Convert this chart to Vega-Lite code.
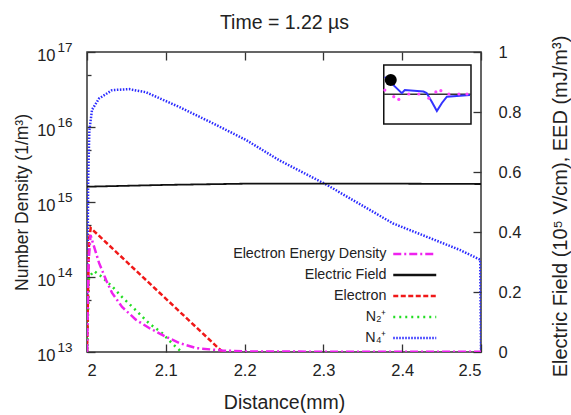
{
  "$schema": "https://vega.github.io/schema/vega-lite/v6.json",
  "width": 394,
  "height": 300,
  "autosize": {"type": "none"},
  "padding": {"left": 87, "top": 52, "right": 90, "bottom": 63},
  "background": "white",
  "config": {
    "view": {"stroke": "#333", "strokeWidth": 1.5},
    "axis": {"labelFont": "Liberation Sans", "labelFontSize": 16.5, "labelColor": "#222", "titleFont": "Liberation Sans", "titleFontSize": 17.5, "titleFontWeight": "normal", "titleColor": "#222", "tickColor": "#333", "tickWidth": 1.3, "domain": false, "grid": false}
  },
  "datasets": {
    "density": [
      {"s": "N₄⁺", "x": 2.0, "v": 1e13},
      {"s": "N₄⁺", "x": 2.0015, "v": 2e15},
      {"s": "N₄⁺", "x": 2.003, "v": 9e15},
      {"s": "N₄⁺", "x": 2.0064, "v": 1.7e16},
      {"s": "N₄⁺", "x": 2.0153, "v": 2.4e16},
      {"s": "N₄⁺", "x": 2.0318, "v": 3.1e16},
      {"s": "N₄⁺", "x": 2.0534, "v": 3.2e16},
      {"s": "N₄⁺", "x": 2.075, "v": 2.9e16},
      {"s": "N₄⁺", "x": 2.117, "v": 1.85e16},
      {"s": "N₄⁺", "x": 2.159, "v": 1.13e16},
      {"s": "N₄⁺", "x": 2.202, "v": 6.7e15},
      {"s": "N₄⁺", "x": 2.244, "v": 3.6e15},
      {"s": "N₄⁺", "x": 2.304, "v": 1.7e15},
      {"s": "N₄⁺", "x": 2.388, "v": 5.2e14},
      {"s": "N₄⁺", "x": 2.473, "v": 2.3e14},
      {"s": "N₄⁺", "x": 2.499, "v": 1.7e14},
      {"s": "N₄⁺", "x": 2.5, "v": 1e13},
      {"s": "N₂⁺", "x": 2.0, "v": 1e13},
      {"s": "N₂⁺", "x": 2.0025, "v": 1.0e14},
      {"s": "N₂⁺", "x": 2.009, "v": 1.2e14},
      {"s": "N₂⁺", "x": 2.019, "v": 1.0e14},
      {"s": "N₂⁺", "x": 2.0318, "v": 7.5e13},
      {"s": "N₂⁺", "x": 2.0445, "v": 5.4e13},
      {"s": "N₂⁺", "x": 2.062, "v": 3.6e13},
      {"s": "N₂⁺", "x": 2.079, "v": 2.4e13},
      {"s": "N₂⁺", "x": 2.095, "v": 1.8e13},
      {"s": "N₂⁺", "x": 2.108, "v": 1.3e13},
      {"s": "N₂⁺", "x": 2.117, "v": 1.07e13},
      {"s": "N₂⁺", "x": 2.12, "v": 1e13},
      {"s": "Electron", "x": 2.0, "v": 1e13},
      {"s": "Electron", "x": 2.0025, "v": 3e14},
      {"s": "Electron", "x": 2.0047, "v": 4.5e14},
      {"s": "Electron", "x": 2.172, "v": 1e13}
    ],
    "field": [
      {"s": "Electric Field", "x": 2.0, "v": 0.551},
      {"s": "Electric Field", "x": 2.05, "v": 0.554},
      {"s": "Electric Field", "x": 2.1, "v": 0.557},
      {"s": "Electric Field", "x": 2.15, "v": 0.559},
      {"s": "Electric Field", "x": 2.2, "v": 0.561},
      {"s": "Electric Field", "x": 2.3, "v": 0.561},
      {"s": "Electric Field", "x": 2.4, "v": 0.561},
      {"s": "Electric Field", "x": 2.5, "v": 0.56},
      {"s": "Electron Energy Density", "x": 2.0, "v": 0.0},
      {"s": "Electron Energy Density", "x": 2.002, "v": 0.3},
      {"s": "Electron Energy Density", "x": 2.0045, "v": 0.39},
      {"s": "Electron Energy Density", "x": 2.0064, "v": 0.373},
      {"s": "Electron Energy Density", "x": 2.0153, "v": 0.297},
      {"s": "Electron Energy Density", "x": 2.0242, "v": 0.24},
      {"s": "Electron Energy Density", "x": 2.0318, "v": 0.197},
      {"s": "Electron Energy Density", "x": 2.0445, "v": 0.15},
      {"s": "Electron Energy Density", "x": 2.0623, "v": 0.107},
      {"s": "Electron Energy Density", "x": 2.0789, "v": 0.08},
      {"s": "Electron Energy Density", "x": 2.0954, "v": 0.057},
      {"s": "Electron Energy Density", "x": 2.117, "v": 0.03},
      {"s": "Electron Energy Density", "x": 2.1387, "v": 0.013},
      {"s": "Electron Energy Density", "x": 2.1718, "v": 0.005},
      {"s": "Electron Energy Density", "x": 2.2, "v": 0.002},
      {"s": "Electron Energy Density", "x": 2.3, "v": 0.001},
      {"s": "Electron Energy Density", "x": 2.4, "v": 0.001},
      {"s": "Electron Energy Density", "x": 2.5, "v": 0.001}
    ],
    "decades": [{"v": 1e13}, {"v": 1e14}, {"v": 1e15}, {"v": 1e16}, {"v": 1e17}],
    "insetBox": [{"x": 2.3766, "x2": 2.4873, "v": 0.957, "v2": 0.76}],
    "insetAxis": [{"x": 2.3766, "v": 0.859}, {"x": 2.4873, "v": 0.859}],
    "insetBlue": [
      {"x": 2.378, "v": 0.917},
      {"x": 2.3995, "v": 0.863},
      {"x": 2.4033, "v": 0.873},
      {"x": 2.427, "v": 0.868},
      {"x": 2.431, "v": 0.863},
      {"x": 2.4377, "v": 0.833},
      {"x": 2.444, "v": 0.803},
      {"x": 2.4504, "v": 0.83},
      {"x": 2.4567, "v": 0.851},
      {"x": 2.486, "v": 0.857}
    ],
    "insetDots": [
      {"x": 2.378, "v": 0.873},
      {"x": 2.3893, "v": 0.851},
      {"x": 2.3957, "v": 0.842},
      {"x": 2.4084, "v": 0.86},
      {"x": 2.4211, "v": 0.86},
      {"x": 2.4338, "v": 0.846},
      {"x": 2.4427, "v": 0.867},
      {"x": 2.4491, "v": 0.871},
      {"x": 2.4593, "v": 0.86},
      {"x": 2.472, "v": 0.86},
      {"x": 2.4822, "v": 0.86}
    ],
    "insetBall": [{"x": 2.3855, "v": 0.907}]
  },
  "layer": [
    {
      "layer": [
        {
          "data": {"name": "density"},
          "mark": {"type": "line", "clip": true, "strokeWidth": 2.5},
          "encoding": {
            "x": {"field": "x", "type": "quantitative", "scale": {"domain": [2, 2.5], "nice": false, "zero": false},
              "axis": {"orient": "bottom", "values": [2, 2.1, 2.2, 2.3, 2.4, 2.5], "format": "~g", "tickSize": -8, "labelPadding": 18, "labelBaseline": "top", "title": "Distance(mm)", "titleFontSize": 19.5, "titleX": 197, "titleY": 56, "titleBaseline": "alphabetic", "titleAlign": "center"}},
            "y": {"field": "v", "type": "quantitative", "scale": {"type": "log", "domain": [1e13, 1e17], "nice": false},
              "axis": {"orient": "left", "values": [1e13, 1e14, 1e15, 1e16, 1e17], "labelExpr": "'10'", "tickSize": -8, "labelPadding": 40, "labelOffset": 3,
                "title": "Number Density (1/m³)", "titleX": -65, "titleY": 150, "titleAngle": 270, "titleAlign": "center", "titleBaseline": "middle"}},
            "color": {"field": "s", "type": "nominal",
              "scale": {"domain": ["Electron Energy Density", "Electric Field", "Electron", "N₂⁺", "N₄⁺"], "range": ["#ee22ee", "#111111", "#f01818", "#22dd22", "#2a2aff"]},
              "legend": {"orient": "none", "legendX": 315.75, "legendY": 190, "title": null, "labelAlign": "right", "labelOffset": -40.25, "symbolType": "M-2,0H2", "symbolSize": 462, "symbolStrokeWidth": 2.5, "rowPadding": 1, "labelFont": "Liberation Sans", "labelFontSize": 14.3, "labelColor": "#222", "labelLimit": 0}},
            "strokeDash": {"field": "s", "type": "nominal",
              "scale": {"domain": ["Electron Energy Density", "Electric Field", "Electron", "N₂⁺", "N₄⁺"], "range": [[8, 3, 2, 3], [1, 0], [5, 2.5], [2, 4], [1.5, 1.5]]},
              "legend": {"orient": "none", "legendX": 315.75, "legendY": 190, "title": null, "labelAlign": "right", "labelOffset": -40.25, "symbolType": "M-2,0H2", "symbolSize": 462, "symbolStrokeWidth": 2.5, "rowPadding": 1, "labelFont": "Liberation Sans", "labelFontSize": 14.3, "labelColor": "#222", "labelLimit": 0}}
          }
        },
        {
          "data": {"name": "decades"},
          "mark": {"type": "point", "opacity": 0},
          "encoding": {
            "y": {"field": "v", "type": "quantitative", "scale": {"type": "log", "domain": [1e13, 1e17], "nice": false},
              "axis": {"orient": "left", "values": [1e13, 1e14, 1e15, 1e16, 1e17], "labelExpr": "'' + round(log(datum.value) / LN10)", "ticks": false, "labelAlign": "left", "labelPadding": 30, "labelOffset": -5, "labelFontSize": 13.5, "title": null}}
          }
        },
        {
          "data": {"name": "decades"},
          "mark": {"type": "point", "opacity": 0},
          "encoding": {
            "y": {"field": "v", "type": "quantitative", "scale": {"type": "log", "domain": [1e13, 1e17], "nice": false},
              "axis": {"orient": "left", "values": [5e13, 5e14, 5e15, 5e16], "labels": false, "tickSize": -4, "title": null}}
          }
        }
      ],
      "resolve": {"axis": {"y": "independent"}}
    },
    {
      "encoding": {
        "x": {"field": "x", "type": "quantitative", "scale": {"domain": [2, 2.5], "nice": false, "zero": false},
          "axis": {"orient": "top", "values": [2, 2.1, 2.2, 2.3, 2.4, 2.5], "labels": false, "tickSize": -8, "title": "Time = 1.22 µs", "titleFontSize": 19.5, "titleX": 197, "titleY": -24, "titleBaseline": "alphabetic", "titleAlign": "center"}},
        "y": {"field": "v", "type": "quantitative", "scale": {"domain": [0, 1], "nice": false, "zero": false},
          "axis": {"orient": "right", "values": [0, 0.2, 0.4, 0.6, 0.8, 1], "format": "~g", "tickSize": -8, "labelPadding": 25, "title": "Electric Field (10⁵ V/cm), EED (mJ/m³)", "titleFontSize": 20, "titleX": 79, "titleY": 154, "titleAngle": 270, "titleAlign": "center", "titleBaseline": "middle"}}
      },
      "layer": [
        {
          "data": {"name": "field"},
          "transform": [{"filter": "datum.s == 'Electric Field'"}],
          "mark": {"type": "line", "clip": true, "strokeWidth": 1.8},
          "encoding": {
            "color": {"field": "s", "type": "nominal"},
            "strokeDash": {"field": "s", "type": "nominal"}
          }
        },
        {
          "data": {"name": "field"},
          "transform": [{"filter": "datum.s == 'Electron Energy Density'"}],
          "mark": {"type": "line", "clip": true, "strokeWidth": 2.5},
          "encoding": {
            "color": {"field": "s", "type": "nominal"},
            "strokeDash": {"field": "s", "type": "nominal"}
          }
        },
        {
          "data": {"name": "insetBox"},
          "mark": {"type": "rect", "fill": "white", "stroke": "#111", "strokeWidth": 1.5},
          "encoding": {"x2": {"field": "x2"}, "y2": {"field": "v2"}}
        },
        {
          "data": {"name": "insetAxis"},
          "mark": {"type": "line", "color": "#333", "strokeWidth": 1.5},
          "encoding": {}
        },
        {
          "data": {"name": "insetBlue"},
          "mark": {"type": "line", "color": "#3333ff", "strokeWidth": 2},
          "encoding": {}
        },
        {
          "data": {"name": "insetDots"},
          "mark": {"type": "point", "filled": true, "color": "#ff44ff", "size": 10, "opacity": 1},
          "encoding": {}
        },
        {
          "data": {"name": "insetBall"},
          "mark": {"type": "point", "shape": "circle", "filled": true, "color": "#000", "size": 144, "opacity": 1},
          "encoding": {}
        }
      ]
    }
  ],
  "resolve": {"scale": {"y": "independent"}, "axis": {"x": "independent"}}
}
